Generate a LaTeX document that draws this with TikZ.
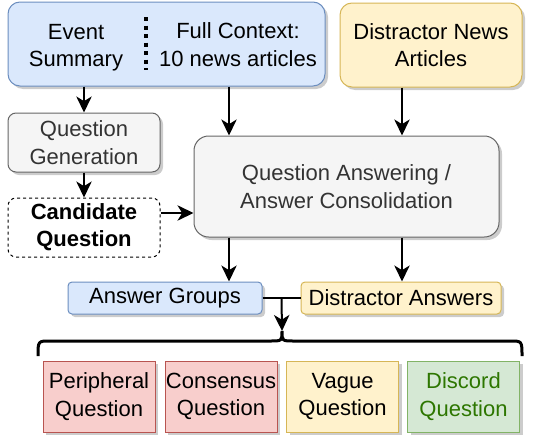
\documentclass[tikz,border=0pt]{standalone}
\usepackage{fontspec}
\setmainfont{Liberation Sans}
\usetikzlibrary{arrows.meta,shadows,calc}

\definecolor{bluefill}{HTML}{DAE8FC}
\definecolor{blueline}{HTML}{6C8EBF}
\definecolor{yellowfill}{HTML}{FFF2CC}
\definecolor{yellowline}{HTML}{D6B656}
\definecolor{grayfill}{HTML}{F5F5F5}
\definecolor{grayline}{HTML}{666666}
\definecolor{graytext}{HTML}{333333}
\definecolor{redfill}{HTML}{F8CECC}
\definecolor{redline}{HTML}{B85450}
\definecolor{greenfill}{HTML}{D5E8D4}
\definecolor{greenline}{HTML}{82B366}
\definecolor{greentext}{HTML}{2D7600}

\tikzset{
    every node/.style={font=\fontsize{16.5}{20.5}\selectfont, align=center, inner sep=0pt},
    shade box/.style={line width=0.75pt, drop shadow={shadow xshift=2.25pt, shadow yshift=-2.25pt, fill=black, opacity=0.2}},
    bluebox/.style={shade box, draw=blueline, fill=bluefill},
    yellowbox/.style={shade box, draw=yellowline, fill=yellowfill},
    graybox/.style={shade box, draw=grayline, fill=grayfill, text=graytext},
    redbox/.style={shade box, draw=redline, fill=redfill},
    greenbox/.style={shade box, draw=greenline, fill=greenfill, text=greentext},
    typebox/.style={minimum width=84pt, minimum height=53.25pt},
    arr/.style={line width=1.5pt, -{Stealth[length=12pt, width=11.5pt, inset=3.5pt]}},
    link/.style={line width=1.5pt},
}

\begin{document}
\begin{tikzpicture}[x=0.75pt, y=-0.75pt]
    \useasboundingbox (0,0) rectangle (534,439);

    \node[bluebox, rounded corners=9pt, minimum width=237.75pt, minimum height=63pt] (ctx) at (166.5,44) {};
    \node (evsum) at (76,47.5) {Event\\Summary};
    \node (fullctx) at (238,44.5) {Full Context:\\10 news articles};
    \draw[line width=3pt, dash pattern=on 3pt off 3.4pt] (146,17) -- (146,70);

    \node[yellowbox, rounded corners=9pt, minimum width=136.5pt, minimum height=63pt] (distr) at (431,45) {Distractor News\\Articles};

    \node[graybox, rounded corners=6pt, minimum width=114pt, minimum height=44.25pt] (qgen) at (84,142.5) {Question\\Generation};
    \node[draw, line width=0.75pt, dash pattern=on 2.25pt off 2.25pt, rounded corners=6pt, minimum width=114pt, minimum height=44.25pt, font=\fontsize{16.5}{20.5}\selectfont\bfseries] (cand) at (84,227.5) {Candidate\\Question};

    \node[graybox, rounded corners=11pt, minimum width=228.75pt, minimum height=75.75pt] (qa) at (346.5,186.5) {Question Answering /\\Answer Consolidation};

    \node[bluebox, rounded corners=3pt, minimum width=145.5pt, minimum height=24pt] (groups) at (165,298) {Answer Groups};
    \node[yellowbox, rounded corners=3pt, minimum width=150pt, minimum height=24pt] (dans) at (401,298) {Distractor Answers};

    \node[redbox, typebox] (periph) at (99,396.5) {Peripheral\\Question};
    \node[redbox, typebox] (consen) at (221,396.5) {Consensus\\Question};
    \node[yellowbox, typebox] (vague) at (342.5,396.5) {Vague\\Question};
    \node[greenbox, typebox] (discord) at (463.5,396.5) {Discord\\Question};

    \coordinate (colA) at (229,0);
    \coordinate (colB) at (402,0);
    \coordinate (rowC) at (0,213);
    \coordinate (tip) at (282,331);

    \draw[arr] (qgen.north |- ctx.south) -- (qgen.north);
    \draw[arr] (qgen.south) -- (cand.north);
    \draw[arr] (cand.east |- rowC) -- (qa.west |- rowC);
    \draw[arr] (ctx.south -| colA) -- (qa.north -| colA);
    \draw[arr] (distr.south -| colB) -- (qa.north -| colB);
    \draw[arr] (qa.south -| colA) -- (groups.north -| colA);
    \draw[arr] (qa.south -| colB) -- (dans.north -| colB);

    \draw[link] (groups.east) -- (dans.west);
    \draw[arr] ($(groups.east)!0.5!(dans.west)$) -- (tip);

    \draw[line width=2.25pt] (38,356) .. controls (38,341) .. (50,341) -- (270,341)
        .. controls (282,341) .. (282,331) .. controls (282,341) .. (294,341)
        -- (510,341) .. controls (522,341) .. (522,356);
\end{tikzpicture}
\end{document}
